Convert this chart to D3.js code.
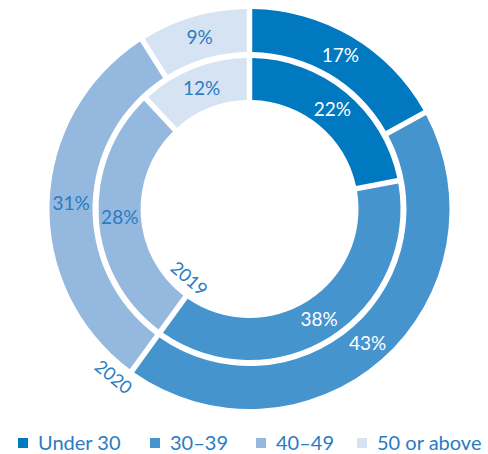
<!DOCTYPE html>
<html><head><meta charset="utf-8">
<script src="https://cdn.jsdelivr.net/npm/d3@7"></script>
<style>
body{margin:0;background:#fff;}
text{font-family:Lato,"Open Sans",sans-serif;font-weight:400;}
</style></head>
<body><svg id="c" width="488" height="454"></svg>
<script>
const categories = ["Under 30", "30–39", "40–49", "50 or above"];
const years = ["2020", "2019"];
const values2020 = [17, 43, 31, 9];
const values2019 = [22, 38, 28, 12];
const colors = ["#0079c1", "#4594ce", "#95b8df", "#d6e3f2"];
const labelColors = ["#ffffff", "#ffffff", "#2a7cc2", "#2a7cc2"];

const svg = d3.select("#c");
const cx = 249.5, cy = 209;
const g = svg.append("g").attr("transform", `translate(${cx},${cy})`);

const rings = [
  {year: years[0], values: values2020, inner: 157, outer: 200},
  {year: years[1], values: values2019, inner: 109, outer: 151}
];
const pie = d3.pie().sort(null).value(d => d);

rings.forEach(ring => {
  const arc = d3.arc().innerRadius(ring.inner).outerRadius(ring.outer)
    .padAngle(0.0275).padRadius(200);
  const arcs = pie(ring.values);
  g.selectAll(null).data(arcs).enter().append("path")
    .attr("d", arc).attr("fill", (d, i) => colors[i]);
  g.selectAll(null).data(arcs).enter().append("text")
    .attr("transform", d => `translate(${arc.centroid(d)})`)
    .attr("text-anchor", "middle").attr("dy", "0.36em")
    .attr("font-size", 19)
    .attr("fill", (d, i) => labelColors[i])
    .text(d => d.data + "%");
});

function yearLabel(txt, r, deg) {
  const a = deg * Math.PI / 180;
  const x = r * Math.sin(a), y = -r * Math.cos(a);
  g.append("text")
    .attr("transform", `translate(${x},${y}) rotate(${deg - 180})`)
    .attr("text-anchor", "middle").attr("dy", "0.36em")
    .attr("font-size", 18).attr("fill", "#2a7cc2").text(txt);
}
yearLabel(years[1], 92, 221);
yearLabel(years[0], 216, 219);

const legX = [18, 150, 256, 357];
const leg = svg.append("g").attr("transform", "translate(0,443)");
categories.forEach((c, i) => {
  leg.append("rect").attr("x", legX[i]).attr("y", -5).attr("width", 10).attr("height", 10)
    .attr("fill", colors[i]);
  leg.append("text").attr("x", legX[i] + 20).attr("y", 0).attr("dy", "0.36em")
    .attr("font-size", 20).attr("fill", "#2a7cc2").text(c);
});
</script></body></html>
